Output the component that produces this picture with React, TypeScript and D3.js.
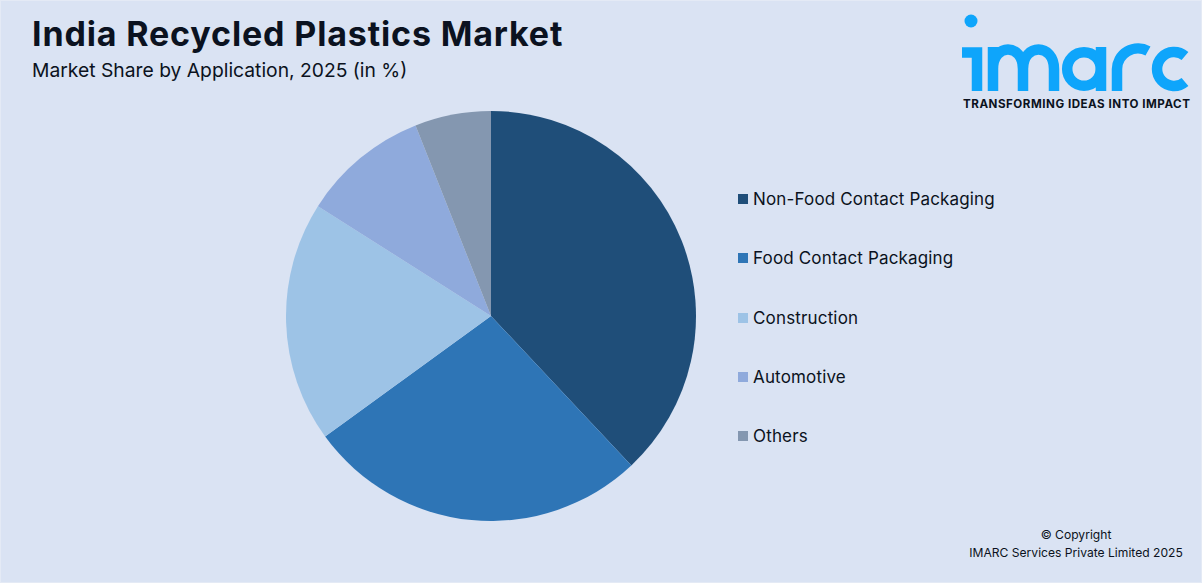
import React, { useEffect } from "react";
import * as d3 from "d3";

const categories = ["Non-Food Contact Packaging", "Food Contact Packaging", "Construction", "Automotive", "Others"];
const shares = [38, 27, 19, 10, 6];
const colours = ["#1f4e79", "#2e75b6", "#9dc3e6", "#8faadc", "#8497b0"];
const legendRows = [199, 258, 318, 377, 436];

const W = 1202, H = 583;
const cx = 491, cy = 316, R = 205;
const font = "Inter, 'Noto Sans', sans-serif";
const ink = "#0b1220";
const logoBlue = "#0ea5fb";

export default function App() {
  useEffect(() => {
    document.body.style.margin = "0";
  }, []);
  const pie = d3.pie<number>().sort(null).value((d) => d);
  const arc = d3.arc<d3.PieArcDatum<number>>().innerRadius(0).outerRadius(R);
  const arcs = pie(shares);
  return (
    <svg width={W} height={H} viewBox={`0 0 ${W} ${H}`} style={{ display: "block", position: "absolute", left: 0, top: 0 }}>
      <rect x={0} y={0} width={W} height={H} fill="#e4eaf5" />
      <rect x={1} y={1} width={W - 2} height={H - 2} fill="#dae3f3" />
      <text x={32} y={46} fontFamily={font} fontWeight={700} fontSize={34} letterSpacing={0.85} fill={ink}>India Recycled Plastics Market</text>
      <text x={32} y={77} fontFamily={font} fontSize={19.3} fill={ink}>Market Share by Application, 2025 (in %)</text>

      <g transform={`translate(${cx},${cy})`}>
        {arcs.map((a, i) => <path key={categories[i]} d={arc(a) ?? ""} fill={colours[i]} />)}
      </g>

      {categories.map((c, i) => (
        <g key={c}>
          <rect x={738} y={legendRows[i] - 5} width={10} height={10} fill={colours[i]} />
          <text x={753} y={legendRows[i] + 6} fontFamily={font} fontSize={17} letterSpacing={0.16} fill={ink}>{c}</text>
        </g>
      ))}

      <g fill="none" stroke={logoBlue} strokeWidth={10.5}>
        <path d="M962 52.5H977V91" />
        <path d="M993 91V47M993 69C993 43 1023 43 1023 69V91M1023 69C1023 43 1054 43 1054 69V91" />
        <circle cx={1084} cy={69} r={16.8} />
        <path d="M1101 47V91" />
        <path d="M1117 91V69A21 21 0 0 1 1148 51" />
        <path d="M1185 56A17 17 0 1 0 1185 82" />
      </g>
      <circle cx={971} cy={21} r={6.5} fill={logoBlue} />
      <text x={963} y={108} fontFamily={font} fontWeight={700} fontSize={11.6} letterSpacing={0.52} fill={ink}>TRANSFORMING IDEAS INTO IMPACT</text>

      <text x={1076} y={539} textAnchor="middle" fontFamily={font} fontSize={12.1} fill={ink}>© Copyright</text>
      <text x={1076} y={557} textAnchor="middle" fontFamily={font} fontSize={12.1} fill={ink}>IMARC Services Private Limited 2025</text>
    </svg>
  );
}
